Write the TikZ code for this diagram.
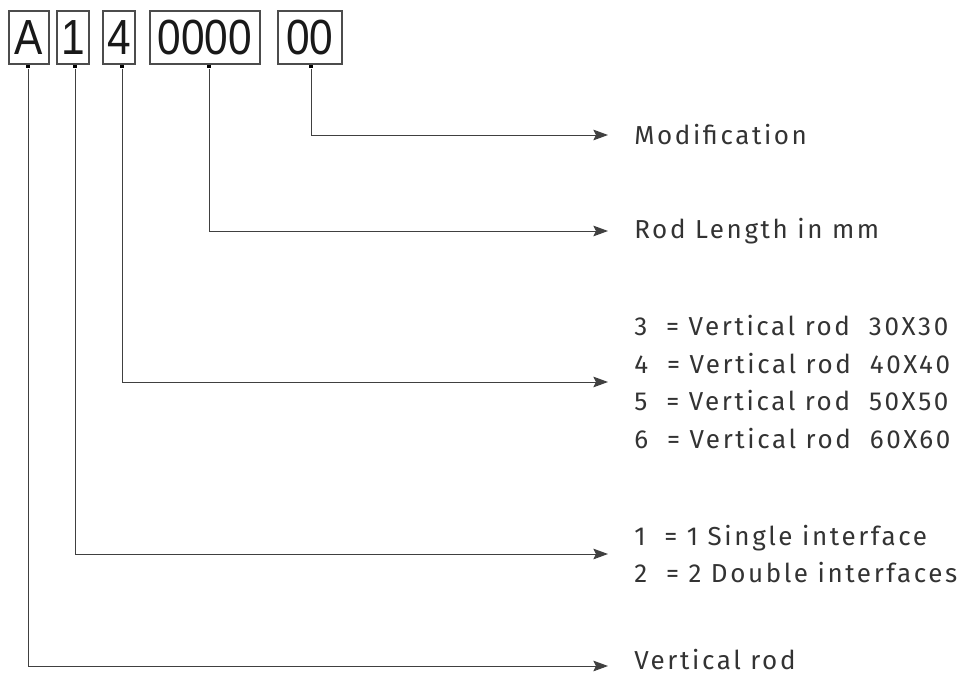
\documentclass[tikz,border=0pt]{standalone}
\usepackage{fontspec}
\setmainfont{Fira Sans}
\newfontfamily\boxfont[FakeStretch=0.86]{Liberation Sans}
\newfontfamily\labfont[LetterSpace=10]{Fira Sans}
\usetikzlibrary{arrows.meta}
\begin{document}
\begin{tikzpicture}[x=0.75pt,y=-0.75pt,
  codebox/.style={draw=black!70, line width=0.8pt, minimum height=39.75pt, inner sep=0pt,
    font=\boxfont\fontsize{37}{40}\selectfont, text=black!90},
  tick/.style={fill=black, minimum size=2.6pt, inner sep=0pt, anchor=north},
  conn/.style={draw=black!75, line width=0.75pt, -{Stealth[length=11pt,width=8pt,inset=2pt]}},
  lab/.style={anchor=west, inner sep=0pt, align=left, text=black!80,
    font=\labfont\fontsize{19.5}{28.1}\selectfont}]
\useasboundingbox (0,0) rectangle (963,678);
% code boxes
\node[codebox, minimum width=30pt]   (bA) at (29,37.5)  {A};
\node[codebox, minimum width=24pt]   (b1) at (73,37.5)  {1};
\node[codebox, minimum width=24pt]   (b4) at (119,37.5) {4};
\node[codebox, minimum width=82.5pt] (bL) at (205,37.5) {0000};
\node[codebox, minimum width=48pt]   (bM) at (310,37.5) {00};
% ticks
\node[tick] (mA) at ([xshift=-0.75pt]bA.south) {};
\node[tick] (m1) at ([xshift=1.5pt]b1.south) {};
\node[tick] (m4) at ([xshift=2.25pt]b4.south) {};
\node[tick] (mL) at ([xshift=3pt]bL.south) {};
\node[tick] (mM) at ([xshift=0.75pt]bM.south) {};
% labels
\node[lab] (tM) at (634,135) {Modification};
\node[lab] (tL) at (634,231) {Rod Length in mm};
\node[lab] (t4) at (634,382) {3\ \ = Vertical rod\ \ 30X30\\4\ \ = Vertical rod\ \ 40X40\\5\ \ = Vertical rod\ \ 50X50\\6\ \ = Vertical rod\ \ 60X60};
\node[lab] (t1) at (634,554) {1\ \ = 1 Single interface\\2\ \ = 2 Double interfaces};
\node[lab] (tA) at (634,660) {Vertical rod};
% connectors
\draw[conn] (mM.south) |- ([xshift=-19.5pt]tM.west);
\draw[conn] (mL.south) |- ([xshift=-19.5pt]tL.west);
\draw[conn] (m4.south) |- ([xshift=-19.5pt]t4.west);
\draw[conn] (m1.south) |- ([xshift=-19.5pt]t1.west);
\draw[conn] (mA.south) |- ([xshift=-19.5pt,yshift=-4.5pt]tA.west);
\end{tikzpicture}
\end{document}
